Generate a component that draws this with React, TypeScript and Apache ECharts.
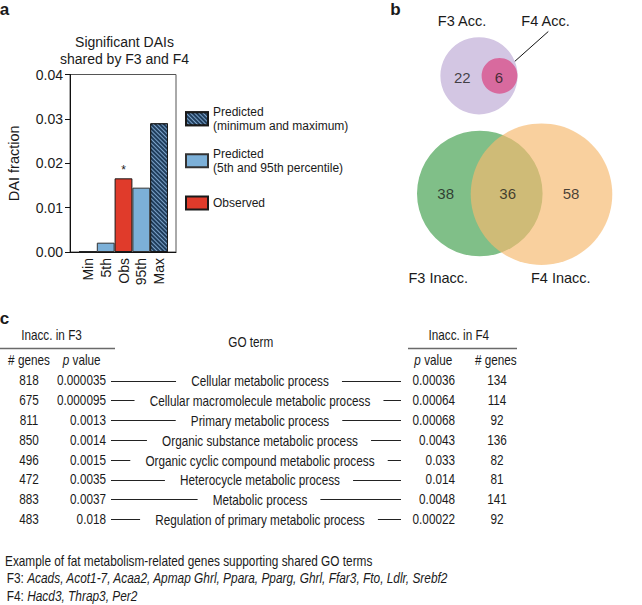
import React, { useEffect, useRef } from 'react';
import * as echarts from 'echarts';

const FONT = '"Liberation Sans", Arial, Helvetica, sans-serif';
const INK = '#1a1a1a';

// ---------- Panel a data ----------
const barCategories = ['Min', '5th', 'Obs', '95th', 'Max'];
const predictedMinMax = [0, null, null, null, 0.029];
const predictedPercentile = [null, 0.0021, null, 0.0145, null];
const observed = [null, null, 0.0166, null, null];
const legendNames = [
  'Predicted\n(minimum and maximum)',
  'Predicted\n(5th and 95th percentile)',
  'Observed',
];

// ---------- Panel b data ----------
const accOnlyF3 = 22;
const accShared = 6;
const inaccOnlyF3 = 38;
const inaccShared = 36;
const inaccOnlyF4 = 58;

// ---------- Panel c data ----------
const goTerms = [
  'Cellular metabolic process',
  'Cellular macromolecule metabolic process',
  'Primary metabolic process',
  'Organic substance metabolic process',
  'Organic cyclic compound metabolic process',
  'Heterocycle metabolic process',
  'Metabolic process',
  'Regulation of primary metabolic process',
];
const f3Genes = [818, 675, 811, 850, 496, 472, 883, 483];
const f3PValues = ['0.000035', '0.000095', '0.0013', '0.0014', '0.0015', '0.0035', '0.0037', '0.018'];
const f4PValues = ['0.00036', '0.00064', '0.00068', '0.0043', '0.033', '0.014', '0.0048', '0.00022'];
const f4Genes = [134, 114, 92, 136, 82, 81, 141, 92];
const exampleTitle = 'Example of fat metabolism-related genes supporting shared GO terms';
const f3Examples = 'Acads, Acot1-7, Acaa2, Apmap Ghrl, Ppara, Pparg, Ghrl, Ffar3, Fto, Ldlr, Srebf2';
const f4Examples = 'Hacd3, Thrap3, Per2';

function buildOption() {
  const canvas = document.createElement('canvas');
  const ctx = canvas.getContext('2d') as CanvasRenderingContext2D;
  const TF = 14;
  const TS = 0.84;
  const rawWidth = (s: string, size: number, italic = false) => {
    ctx.font = `${italic ? 'italic ' : ''}${size}px ${FONT}`;
    return ctx.measureText(s).width;
  };
  const measure = (s: string) => rawWidth(s, TF) * TS;

  const txt = (text: string, x: number, y: number, opts: any = {}) => ({
    type: 'text',
    x,
    y,
    silent: true,
    scaleX: opts.scaleX ?? 1,
    style: {
      text,
      fontSize: opts.fontSize ?? 14,
      fontFamily: FONT,
      fontWeight: opts.fontWeight ?? 'normal',
      fill: INK,
      textAlign: opts.align ?? 'center',
      textVerticalAlign: 'middle',
      lineHeight: opts.lineHeight,
      rich: opts.rich,
    },
  });
  const ttxt = (text: string, x: number, y: number, align: string, rich?: any, scale = TS) =>
    txt(text, x, y, { fontSize: TF, scaleX: scale, align, rich });
  const line = (x1: number, y1: number, x2: number, y2: number, color = '#222', w = 1) => ({
    type: 'line',
    silent: true,
    shape: { x1, y1, x2, y2 },
    style: { stroke: color, lineWidth: w },
  });

  const italicRich = { i: { fontStyle: 'italic', fontSize: TF, fontFamily: FONT, fill: INK } };

  const graphics: any[] = [];
  // panel labels
  graphics.push(txt('a', 4.5, 9, { fontSize: 17, fontWeight: 'bold' }));
  graphics.push(txt('b', 395.5, 9, { fontSize: 17, fontWeight: 'bold' }));
  graphics.push(txt('c', 4.5, 318.5, { fontSize: 17, fontWeight: 'bold' }));
  // panel a title
  graphics.push(txt('Significant DAIs\nshared by F3 and F4', 124.5, 50, { fontSize: 14, lineHeight: 17 }));
  // panel b labels
  graphics.push(txt('F3 Acc.', 462, 21, { fontSize: 14.5 }));
  graphics.push(txt('F4 Acc.', 545.5, 21, { fontSize: 14.5 }));
  graphics.push(line(548.3, 31.5, 510.7, 65, '#111', 1));
  graphics.push(txt('F3 Inacc.', 438.3, 278.3, { fontSize: 14.5 }));
  graphics.push(txt('F4 Inacc.', 560.8, 278.3, { fontSize: 14.5 }));

  // panel c header
  graphics.push(ttxt('Inacc. in F3', 51.5, 335, 'center'));
  graphics.push(ttxt('Inacc. in F4', 458.8, 335, 'center'));
  graphics.push(ttxt('GO term', 250.8, 341.7, 'center'));
  graphics.push(line(0, 348.5, 115, 348.5, '#6a6a6a', 1.5));
  graphics.push(line(408, 348.5, 517, 348.5, '#6a6a6a', 1.5));
  graphics.push(ttxt('# genes', 29, 360, 'center'));
  graphics.push(ttxt('{i|p} value', 81.7, 360, 'center', italicRich));
  graphics.push(ttxt('{i|p} value', 433.3, 360, 'center', italicRich));
  graphics.push(ttxt('# genes', 495.8, 360, 'center'));

  const GO_CX = 260;
  goTerms.forEach((term, i) => {
    const y = 380.5 + 19.8 * i;
    const w = measure(term);
    graphics.push(ttxt(String(f3Genes[i]), 29, y, 'center'));
    graphics.push(ttxt(f3PValues[i], 106, y, 'right'));
    graphics.push(ttxt(term, GO_CX, y + 1, 'center'));
    graphics.push(ttxt(f4PValues[i], 455, y, 'right'));
    graphics.push(ttxt(String(f4Genes[i]), 497, y, 'center'));
    const ly = Math.round(y) + 0.5;
    graphics.push(line(111, ly, GO_CX - w / 2 - 15, ly));
    graphics.push(line(GO_CX + w / 2 + 13, ly, 401, ly));
  });

  // bottom notes: fit horizontal scale to the reference widths
  const fitScale = (target: number, w: number) => Math.max(0.7, Math.min(1, target / w));
  const exW = rawWidth(exampleTitle, TF);
  const f3W = rawWidth('F3: ', TF) + rawWidth(f3Examples, TF, true);
  const geneScale = fitScale(442.5, f3W);
  graphics.push(ttxt(exampleTitle, 5, 560.7, 'left', undefined, fitScale(367.5, exW)));
  graphics.push(ttxt('F3: {i|' + f3Examples + '}', 6.7, 578.3, 'left', italicRich, geneScale));
  graphics.push(ttxt('F4: {i|' + f4Examples + '}', 6.7, 596, 'left', italicRich, geneScale));

  const K = 7.3;
  const barBase = {
    type: 'bar',
    xAxisIndex: 1,
    yAxisIndex: 1,
    stack: 'all',
    barCategoryGap: '0%',
    silent: true,
  };

  return {
    animation: false,
    textStyle: { fontFamily: FONT },
    grid: [
      { left: 70, top: 74.5, width: 106, height: 177.5, show: true, borderColor: '#555', borderWidth: 1 },
      { left: 79, top: 74.5, width: 89, height: 177.5 },
      { left: 0, top: 0, width: 642, height: 605 },
    ],
    xAxis: [
      {
        gridIndex: 0,
        type: 'value',
        min: 0,
        max: 1,
        axisLine: { show: true, lineStyle: { color: '#111', width: 1 } },
        axisTick: { show: false },
        axisLabel: { show: false },
        splitLine: { show: false },
      },
      {
        gridIndex: 1,
        type: 'category',
        data: barCategories,
        axisLine: { show: false },
        axisTick: { show: false },
        axisLabel: { interval: 0, rotate: 90, margin: 6, fontSize: 14, color: INK, fontFamily: FONT },
      },
      { gridIndex: 2, type: 'value', min: 0, max: 642, show: false },
    ],
    yAxis: [
      {
        gridIndex: 0,
        type: 'value',
        min: 0,
        max: 0.04,
        interval: 0.01,
        name: 'DAI fraction',
        nameLocation: 'middle',
        nameGap: 49,
        nameTextStyle: { fontSize: 14.5, color: INK, fontFamily: FONT },
        axisLine: { show: true, lineStyle: { color: '#111', width: 1 } },
        axisTick: { show: true, length: 5, lineStyle: { color: '#111' } },
        axisLabel: {
          fontSize: 14,
          margin: 7,
          color: INK,
          fontFamily: FONT,
          formatter: (v: number) => v.toFixed(2),
        },
        splitLine: { show: false },
      },
      { gridIndex: 1, type: 'value', min: 0, max: 0.04, show: false },
      { gridIndex: 2, type: 'value', min: 0, max: 605, inverse: true, show: false },
    ],
    legend: legendNames.map((name, i) => ({
      data: [name],
      left: 185,
      top: [105.3, 147.3, 195.5][i],
      orient: 'vertical',
      icon: 'rect',
      itemWidth: 22,
      itemHeight: 13,
      itemGap: 0,
      padding: 0,
      selectedMode: false,
      textStyle: { fontSize: 12, lineHeight: 13.5, color: INK, fontFamily: FONT },
    })),
    series: [
      {
        ...barBase,
        name: legendNames[0],
        data: predictedMinMax,
        itemStyle: {
          color: '#1f3d5c',
          borderColor: '#1a1a1a',
          borderWidth: 1,
          decal: {
            symbol: 'rect',
            symbolSize: 1,
            color: 'rgba(140,180,220,0.85)',
            dashArrayX: [1, 0],
            dashArrayY: [1, 2],
            rotation: Math.PI / 4,
          },
        },
      },
      {
        ...barBase,
        name: legendNames[1],
        data: predictedPercentile,
        itemStyle: { color: '#7cb0d8', borderColor: '#333', borderWidth: 1 },
      },
      {
        ...barBase,
        name: legendNames[2],
        data: observed,
        itemStyle: { color: '#e03b2b', borderColor: '#1a1a1a', borderWidth: 1 },
        label: { show: true, position: 'top', formatter: '*', distance: 2, fontSize: 12, color: INK },
      },
      {
        type: 'scatter',
        xAxisIndex: 2,
        yAxisIndex: 2,
        silent: true,
        symbol: 'circle',
        symbolSize: (v: number[]) => 2 * K * Math.sqrt(v[2]),
        itemStyle: { opacity: 1 },
        data: [
          { value: [479, 75.8, accOnlyF3 + accShared], itemStyle: { color: '#d3c6e3', opacity: 1 } },
          { value: [499.5, 75.8, accShared], itemStyle: { color: '#d86a9e', opacity: 1 } },
          { value: [479.8, 193.5, inaccOnlyF3 + inaccShared], itemStyle: { color: '#80bf88', opacity: 1 } },
          { value: [541.5, 194.2, inaccShared + inaccOnlyF4], itemStyle: { color: 'rgb(246,185,110)', opacity: 0.67 } },
        ],
      },
      {
        type: 'scatter',
        xAxisIndex: 2,
        yAxisIndex: 2,
        silent: true,
        symbolSize: 1,
        itemStyle: { color: 'rgba(0,0,0,0)' },
        label: {
          show: true,
          position: 'inside',
          formatter: (p: any) => String(p.value[2]),
          fontSize: 15,
          color: INK,
          fontFamily: FONT,
        },
        data: [
          [462.3, 77, accOnlyF3],
          [499, 77, accShared],
          [445.7, 193, inaccOnlyF3],
          [507.7, 193, inaccShared],
          [571, 193, inaccOnlyF4],
        ],
      },
    ],
    graphic: { elements: graphics },
  };
}

export default function App() {
  const ref = useRef<HTMLDivElement>(null);
  useEffect(() => {
    document.body.style.margin = '0';
    const chart = echarts.init(ref.current as HTMLDivElement, null, { renderer: 'svg' });
    chart.setOption(buildOption() as any);
    return () => chart.dispose();
  }, []);
  return <div ref={ref} style={{ width: 642, height: 605 }} />;
}
